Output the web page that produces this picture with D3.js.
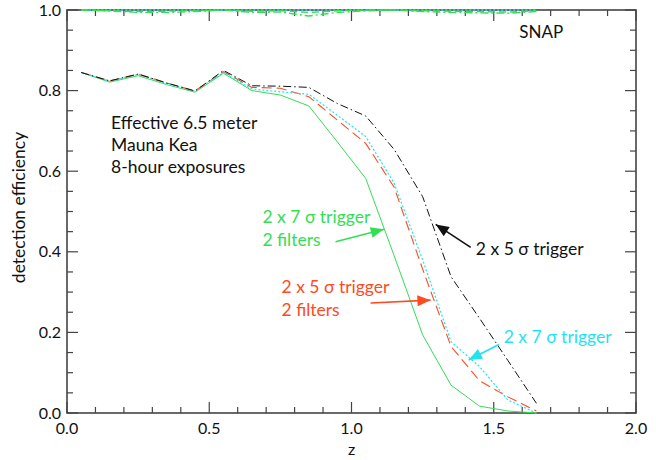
<!DOCTYPE html>
<html>
<head>
<meta charset="utf-8">
<script src="https://cdn.jsdelivr.net/npm/d3@7/dist/d3.min.js"></script>
<style>
  body { margin: 0; background: #fff; }
  svg text { font-family: Lato, "Noto Sans", sans-serif; }
</style>
</head>
<body>
<div id="chart"></div>
<script>
'use strict';

const width = 656;
const height = 460;

// redshift bins
const zBins = [0.05, 0.15, 0.25, 0.35, 0.45, 0.55, 0.65, 0.75, 0.85, 0.95, 1.05, 1.15, 1.25, 1.35, 1.45, 1.55, 1.65];

// 6.5 m Mauna Kea curves
const trig5 = [0.845, 0.824, 0.841, 0.819, 0.799, 0.850, 0.812, 0.811, 0.808, 0.768, 0.737, 0.654, 0.537, 0.338, 0.235, 0.130, 0.024];
const trig7 = [0.845, 0.823, 0.840, 0.818, 0.798, 0.845, 0.804, 0.797, 0.791, 0.739, 0.686, 0.570, 0.380, 0.177, 0.115, 0.032, 0.000];
const trig5filt = [0.845, 0.824, 0.841, 0.819, 0.799, 0.847, 0.808, 0.806, 0.785, 0.727, 0.669, 0.560, 0.357, 0.165, 0.080, 0.040, 0.005];
const trig7filt = [0.845, 0.821, 0.837, 0.815, 0.796, 0.843, 0.800, 0.789, 0.762, 0.673, 0.582, 0.390, 0.194, 0.069, 0.017, 0.005, 0.000];

// SNAP curves (all close to 1)
const snapTrig7 = [1.000, 1.000, 1.000, 1.000, 1.000, 1.000, 1.000, 1.000, 1.000, 1.000, 1.000, 1.000, 1.000, 1.000, 1.000, 1.000, 1.000];
const snapFilt5 = [1.000, 0.998, 0.996, 0.997, 0.998, 1.000, 0.997, 0.998, 0.994, 0.998, 1.000, 1.000, 0.998, 0.997, 0.996, 0.995, 0.998];
const snapFilt7 = [1.000, 0.998, 0.994, 0.994, 0.996, 1.000, 0.994, 0.995, 0.985, 0.994, 0.998, 1.000, 0.996, 0.994, 0.993, 0.992, 0.996];

const xTicks = [0.0, 0.5, 1.0, 1.5, 2.0];
const yTicks = [0.0, 0.2, 0.4, 0.6, 0.8, 1.0];

const colBlack = '#111';
const colRed = '#ff4a22';
const colCyan = '#1ee4f2';
const colGreen = '#33de55';
const axisCol = '#444';

const svg = d3.select('#chart').append('svg')
	.attr('width', width)
	.attr('height', height);

const x = d3.scaleLinear().domain([0, 2]).range([67, 636]);
const y = d3.scaleLinear().domain([0, 1]).range([413, 10]);

const defs = svg.append('defs');
function arrowMarker(id, color) {
	defs.append('marker')
		.attr('id', id)
		.attr('viewBox', '0 0 12 10')
		.attr('refX', 12)
		.attr('refY', 5)
		.attr('markerUnits', 'userSpaceOnUse')
		.attr('markerWidth', 14)
		.attr('markerHeight', 11)
		.attr('orient', 'auto')
		.append('path')
		.attr('d', 'M0,0 L12,5 L0,10 Z')
		.attr('fill', color);
}
arrowMarker('arBlack', colBlack);
arrowMarker('arRed', colRed);
arrowMarker('arCyan', colCyan);
arrowMarker('arGreen', colGreen);

// frame + ticks on all four sides
const majorLen = 11;
const minorLen = 6;
const xMinor = d3.range(0, 2.0001, 0.1);
const yMinor = d3.range(0, 1.0001, 0.05);

const axisG = svg.append('g');
axisG.append('rect')
	.attr('x', x(0)).attr('y', y(1))
	.attr('width', x(2) - x(0)).attr('height', y(0) - y(1))
	.attr('fill', 'none')
	.attr('stroke', axisCol)
	.attr('stroke-width', 1.6);

function isMajor(v, step) { return Math.abs(v / step - Math.round(v / step)) < 1e-6; }

xMinor.forEach(v => {
	const len = isMajor(v, 0.5) ? majorLen : minorLen;
	axisG.append('line').attr('x1', x(v)).attr('x2', x(v))
		.attr('y1', y(0)).attr('y2', y(0) - len)
		.attr('stroke', axisCol).attr('stroke-width', 1.2);
	axisG.append('line').attr('x1', x(v)).attr('x2', x(v))
		.attr('y1', y(1)).attr('y2', y(1) + len)
		.attr('stroke', axisCol).attr('stroke-width', 1.2);
});
yMinor.forEach(v => {
	const len = isMajor(v, 0.2) ? majorLen : minorLen;
	axisG.append('line').attr('x1', x(0)).attr('x2', x(0) + len)
		.attr('y1', y(v)).attr('y2', y(v))
		.attr('stroke', axisCol).attr('stroke-width', 1.2);
	axisG.append('line').attr('x1', x(2)).attr('x2', x(2) - len)
		.attr('y1', y(v)).attr('y2', y(v))
		.attr('stroke', axisCol).attr('stroke-width', 1.2);
});

// curves drawn over the frame, like the original plot
const line = d3.line()
	.x(d => x(d[0]))
	.y(d => y(d[1]));

const series = [
	{ vals: snapTrig7, color: colCyan, dash: '2,2', w: 1.4 },
	{ vals: snapFilt5, color: colGreen, dash: '7,4', w: 1.4 },
	{ vals: snapFilt7, color: colGreen, dash: '8,3,2,3', w: 1.4 },
	{ vals: trig7filt, color: colGreen, dash: null, w: 1 },
	{ vals: trig5filt, color: colRed, dash: '10,5', w: 1.1 },
	{ vals: trig7, color: colCyan, dash: '2,2', w: 1.2 },
	{ vals: trig5, color: colBlack, dash: '8,3,1.5,3', w: 1 }
];

const plot = svg.append('g');
series.forEach(s => {
	plot.append('path')
		.datum(zBins.map((z, i) => [z, s.vals[i]]))
		.attr('d', line)
		.attr('fill', 'none')
		.attr('stroke', s.color)
		.attr('stroke-width', s.w)
		.attr('stroke-dasharray', s.dash);
});

// tick labels
svg.append('g').selectAll('text')
	.data(xTicks)
	.enter().append('text')
	.attr('x', d => x(d))
	.attr('y', 434)
	.attr('text-anchor', 'middle')
	.attr('font-size', 16)
	.attr('fill', '#111')
	.text(d => d.toFixed(1));

svg.append('g').selectAll('text')
	.data(yTicks)
	.enter().append('text')
	.attr('x', 61)
	.attr('y', d => y(d) + 5.5)
	.attr('text-anchor', 'end')
	.attr('font-size', 16)
	.attr('fill', '#111')
	.text(d => d.toFixed(1));

svg.append('text')
	.attr('x', x(1))
	.attr('y', 455)
	.attr('text-anchor', 'middle')
	.attr('font-size', 16)
	.attr('fill', '#111')
	.text('z');

svg.append('text')
	.attr('transform', `translate(25,${y(0.51)}) rotate(-90)`)
	.attr('text-anchor', 'middle')
	.attr('font-size', 17.5)
	.attr('fill', '#111')
	.text('detection efficiency');

// annotations
svg.append('text')
	.attr('x', x(1.59)).attr('y', y(0.93))
	.attr('font-size', 17)
	.attr('fill', '#111')
	.text('SNAP');

const info = svg.append('text')
	.attr('x', x(0.155)).attr('y', y(0.705))
	.attr('font-size', 17.5)
	.attr('fill', '#111');
['Effective 6.5 meter', 'Mauna Kea', '8-hour exposures'].forEach((t, i) => {
	info.append('tspan').attr('x', x(0.155)).attr('dy', i ? 22 : 0).text(t);
});

const labels = [
	{ lines: ['2 x 7 σ trigger', '2 filters'], at: [0.687, 0.471], color: colGreen, from: [0.944, 0.425], to: [1.114, 0.456], marker: 'arGreen' },
	{ lines: ['2 x 5 σ trigger', '2 filters'], at: [0.754, 0.297], color: colRed, from: [1.067, 0.273], to: [1.278, 0.280], marker: 'arRed' },
	{ lines: ['2 x 5 σ trigger'], at: [1.437, 0.392], color: colBlack, from: [1.419, 0.411], to: [1.296, 0.468], marker: 'arBlack' },
	{ lines: ['2 x 7 σ trigger'], at: [1.535, 0.173], color: colCyan, from: [1.518, 0.170], to: [1.412, 0.1315], marker: 'arCyan' }
];

labels.forEach(l => {
	const t = svg.append('text')
		.attr('x', x(l.at[0])).attr('y', y(l.at[1]))
		.attr('font-size', 17.5)
		.attr('fill', l.color);
	l.lines.forEach((s, i) => {
		t.append('tspan').attr('x', x(l.at[0])).attr('dy', i ? 23 : 0).text(s);
	});
	svg.append('line')
		.attr('x1', x(l.from[0])).attr('y1', y(l.from[1]))
		.attr('x2', x(l.to[0])).attr('y2', y(l.to[1]))
		.attr('stroke', l.color)
		.attr('stroke-width', 1.6)
		.attr('marker-end', `url(#${l.marker})`);
});
</script>
</body>
</html>
